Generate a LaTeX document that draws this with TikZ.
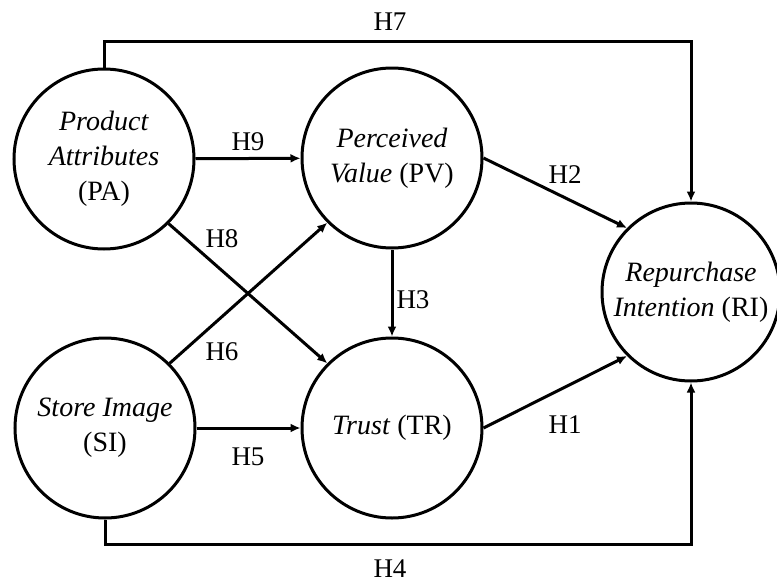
\documentclass[tikz,border=0pt]{standalone}
\usepackage{fontspec}
\setmainfont{Liberation Serif}
\usetikzlibrary{arrows.meta}
\begin{document}
\begin{tikzpicture}[x=1pt,y=-1pt,
  var/.style={circle,draw,line width=3pt,minimum size=180pt,inner sep=0pt,align=center,font=\fontsize{28}{35}\selectfont},
  arr/.style={line width=3pt,-{Latex[length=10pt,width=9pt]}},
  lab/.style={font=\fontsize{27}{34}\selectfont,inner sep=0pt}]
\useasboundingbox (0,0) rectangle (777,584);
\node[var] (PA) at (104,159) {\textit{Product}\\\textit{Attributes}\\(PA)};
\node[var] (PV) at (392,158) {\textit{Perceived}\\\textit{Value} (PV)};
\node[var] (SI) at (105,428) {\textit{Store Image}\\(SI)};
\node[var] (TR) at (392,428) {\textit{Trust} (TR)};
\node[var,minimum size=178pt] (RI) at (691,292) {\textit{Repurchase}\\\textit{Intention} (RI)};
\coordinate (t7) at (0,41);
\coordinate (t4) at (0,544);
\draw[arr,line join=miter] (PA.north) -- (PA.north |- t7) -- (RI.north |- t7) -- (RI.north);
\draw[arr,line join=miter] (SI.south) -- (SI.south |- t4) -- (RI.south |- t4) -- (RI.south);
\draw[arr] (PA) -- (PV);
\draw[arr] (SI) -- (TR);
\draw[arr] (PV) -- (TR);
\draw[arr] (PA.-45) -- (TR.135);
\draw[arr] (SI.45) -- (PV.-135);
\draw[arr] (PV.east) -- (RI.135);
\draw[arr] (TR.east) -- (RI.-135);
\node[lab] (h7) at (390,22) {H7};
\node[lab] (h9) at (248,142) {H9};
\node[lab] (h8) at (222,239) {H8};
\node[lab] (h6) at (222,352) {H6};
\node[lab] (h5) at (248,457) {H5};
\node[lab] (h3) at (413,300) {H3};
\node[lab] (h2) at (565,175) {H2};
\node[lab] (h1) at (565,425) {H1};
\node[lab] (h4) at (390,569) {H4};
\end{tikzpicture}
\end{document}
